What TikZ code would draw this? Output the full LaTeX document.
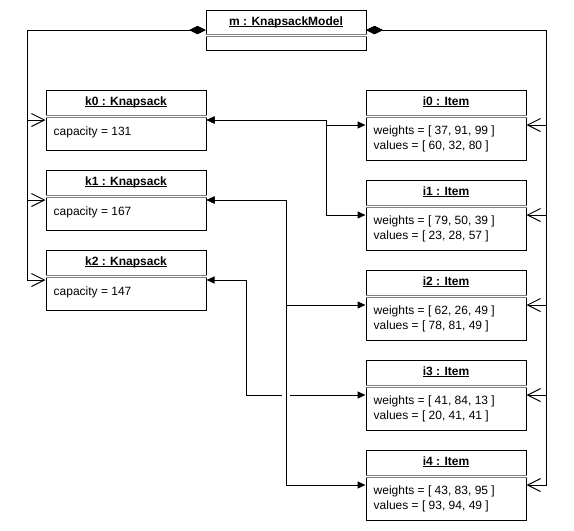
\documentclass[tikz,border=0pt]{standalone}
\usepackage{fontspec}
\setmainfont{Liberation Sans}
\usetikzlibrary{arrows.meta}
% bold, underlined object name
\newcommand{\objname}[1]{\setbox0\hbox{\bfseries #1}\rlap{\rule[-1.6pt]{\wd0}{0.9pt}}\box0}

\begin{document}
\begin{tikzpicture}[x=1pt, y=-1pt, font=\fontsize{12pt}{14pt}\selectfont,
  tri/.tip={Triangle[length=8pt,width=7pt]},
  obj/.style={draw, line width=1pt, minimum width=160pt, inner sep=0pt},
  ttl/.style={anchor=base, inner sep=0pt},
  attr/.style={anchor=base west, inner sep=0pt},
  sep/.style={draw=gray, line width=0.7pt, double=white, double distance=1.2pt},
  comp/.style={line width=1pt, {Diamond[length=16pt,width=8pt]}-{Straight Barb[length=13pt,width=13pt]}},
  assoc/.style={line width=1pt, tri-tri}]
  \useasboundingbox (0,0) rectangle (574,531);

  % --- model object on top ---
  \node[obj, minimum height=40pt] (m) at (286,30) {};
  \node[ttl] (m-t) at ([yshift=-16pt]m.north) {\objname{m : KnapsackModel}};
  \draw[sep] ([yshift=-26pt]m.north west) -- ([yshift=-26pt]m.north east);

  % --- knapsacks, left column (x 46..206, pitch 80) ---
  \node[obj, minimum height=60pt] (k0) at (126,120) {};
  \node[ttl] (k0-t) at ([yshift=-16pt]k0.north) {\objname{k0 : Knapsack}};
  \draw[sep] ([yshift=-27pt]k0.north west) -- ([yshift=-27pt]k0.north east);
  \node[attr] (k0-a) at ([xshift=8pt,yshift=-46pt]k0.north west) {capacity = 131};

  \node[obj, minimum height=60pt] (k1) at (126,200) {};
  \node[ttl] (k1-t) at ([yshift=-16pt]k1.north) {\objname{k1 : Knapsack}};
  \draw[sep] ([yshift=-27pt]k1.north west) -- ([yshift=-27pt]k1.north east);
  \node[attr] (k1-a) at ([xshift=8pt,yshift=-46pt]k1.north west) {capacity = 167};

  \node[obj, minimum height=60pt] (k2) at (126,280) {};
  \node[ttl] (k2-t) at ([yshift=-16pt]k2.north) {\objname{k2 : Knapsack}};
  \draw[sep] ([yshift=-27pt]k2.north west) -- ([yshift=-27pt]k2.north east);
  \node[attr] (k2-a) at ([xshift=8pt,yshift=-46pt]k2.north west) {capacity = 147};

  % --- items, right column (x 366..526, pitch 90) ---
  \node[obj, minimum height=70pt] (i0) at (446,125) {};
  \node[ttl] (i0-t) at ([yshift=-16pt]i0.north) {\objname{i0 : Item}};
  \draw[sep] ([yshift=-27pt]i0.north west) -- ([yshift=-27pt]i0.north east);
  \node[attr] (i0-w) at ([xshift=8pt,yshift=-45pt]i0.north west) {weights = [ 37, 91, 99 ]};
  \node[attr] (i0-v) at ([xshift=8pt,yshift=-60pt]i0.north west) {values = [ 60, 32, 80 ]};

  \node[obj, minimum height=70pt] (i1) at (446,215) {};
  \node[ttl] (i1-t) at ([yshift=-16pt]i1.north) {\objname{i1 : Item}};
  \draw[sep] ([yshift=-27pt]i1.north west) -- ([yshift=-27pt]i1.north east);
  \node[attr] (i1-w) at ([xshift=8pt,yshift=-45pt]i1.north west) {weights = [ 79, 50, 39 ]};
  \node[attr] (i1-v) at ([xshift=8pt,yshift=-60pt]i1.north west) {values = [ 23, 28, 57 ]};

  \node[obj, minimum height=70pt] (i2) at (446,305) {};
  \node[ttl] (i2-t) at ([yshift=-16pt]i2.north) {\objname{i2 : Item}};
  \draw[sep] ([yshift=-27pt]i2.north west) -- ([yshift=-27pt]i2.north east);
  \node[attr] (i2-w) at ([xshift=8pt,yshift=-45pt]i2.north west) {weights = [ 62, 26, 49 ]};
  \node[attr] (i2-v) at ([xshift=8pt,yshift=-60pt]i2.north west) {values = [ 78, 81, 49 ]};

  \node[obj, minimum height=70pt] (i3) at (446,395) {};
  \node[ttl] (i3-t) at ([yshift=-16pt]i3.north) {\objname{i3 : Item}};
  \draw[sep] ([yshift=-27pt]i3.north west) -- ([yshift=-27pt]i3.north east);
  \node[attr] (i3-w) at ([xshift=8pt,yshift=-45pt]i3.north west) {weights = [ 41, 84, 13 ]};
  \node[attr] (i3-v) at ([xshift=8pt,yshift=-60pt]i3.north west) {values = [ 20, 41, 41 ]};

  \node[obj, minimum height=70pt] (i4) at (446,485) {};
  \node[ttl] (i4-t) at ([yshift=-16pt]i4.north) {\objname{i4 : Item}};
  \draw[sep] ([yshift=-27pt]i4.north west) -- ([yshift=-27pt]i4.north east);
  \node[attr] (i4-w) at ([xshift=8pt,yshift=-45pt]i4.north west) {weights = [ 43, 83, 95 ]};
  \node[attr] (i4-v) at ([xshift=8pt,yshift=-60pt]i4.north west) {values = [ 93, 94, 49 ]};

  % --- routing columns ---
  \coordinate (lbus) at (27,30);   % composition, left side
  \coordinate (rbus) at (546,30);  % composition, right side
  \coordinate (j0) at (326,0);     % k0 -> i0, i1
  \coordinate (j1) at (286,0);     % k1 -> i2, i4
  \coordinate (j2) at (246,0);     % k2 -> i3
  \coordinate (gapL) at (282,395); % line jump over the j1 column
  \coordinate (gapR) at (290,395);

  % composition: model owns knapsacks and items
  \draw[comp] (m.west) -- (lbus) |- (k0.west);
  \draw[comp] (m.west) -- (lbus) |- (k1.west);
  \draw[comp] (m.west) -- (lbus) |- (k2.west);
  \draw[comp] (m.east) -- (rbus) |- (i0.east);
  \draw[comp] (m.east) -- (rbus) |- (i1.east);
  \draw[comp] (m.east) -- (rbus) |- (i2.east);
  \draw[comp] (m.east) -- (rbus) |- (i3.east);
  \draw[comp] (m.east) -- (rbus) |- (i4.east);

  % associations knapsack <-> item
  \draw[assoc] (k0.east) -- (k0.east -| j0) |- (i0.west);
  \draw[assoc] (k0.east) -- (k0.east -| j0) |- (i1.west);
  \draw[assoc] (k1.east) -- (k1.east -| j1) |- (i2.west);
  \draw[assoc] (k1.east) -- (k1.east -| j1) |- (i4.west);
  \draw[assoc, tri-] (k2.east) -- (k2.east -| j2) |- (gapL);
  \draw[assoc, -tri] (gapR) -- (i3.west);
\end{tikzpicture}
\end{document}
